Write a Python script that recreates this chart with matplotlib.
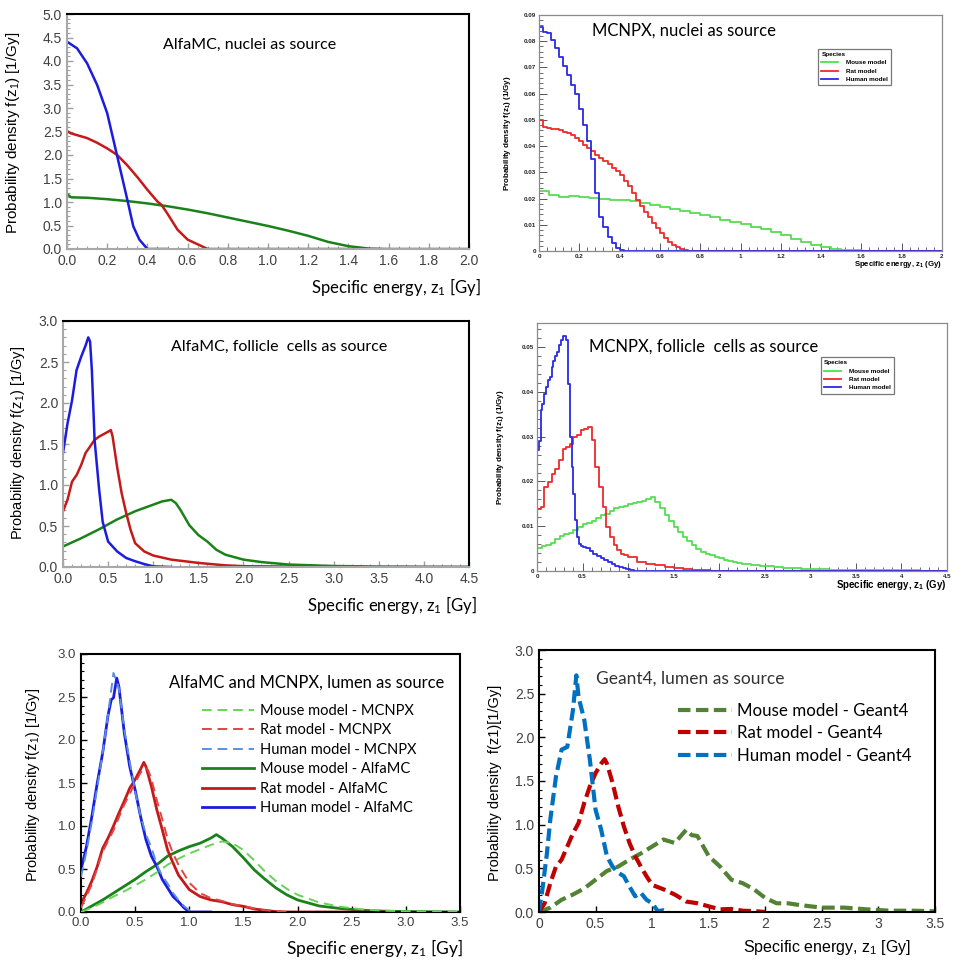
import numpy as np
import matplotlib
matplotlib.use("Agg")
import matplotlib.pyplot as plt
from matplotlib.ticker import MultipleLocator, FormatStrFormatter, FuncFormatter
from matplotlib.lines import Line2D

plt.rcParams['font.family'] = ['Liberation Sans', 'DejaVu Sans']
plt.rcParams['mathtext.default'] = 'regular'

# ---------------- data ----------------
# AlfaMC, nuclei as source
nuc_alfa_human_x = [0.0, 0.05, 0.10, 0.15, 0.20, 0.25, 0.30, 0.33, 0.36, 0.40, 0.50]
nuc_alfa_human_y = [4.41, 4.27, 3.95, 3.49, 2.89, 1.97, 1.05, 0.48, 0.20, 0.0, 0.0]
nuc_alfa_rat_x = [0.0, 0.02, 0.10, 0.15, 0.20, 0.25, 0.30, 0.35, 0.40, 0.45, 0.47, 0.50, 0.55, 0.60, 0.65, 0.70, 1.50]
nuc_alfa_rat_y = [2.51, 2.46, 2.36, 2.26, 2.14, 2.00, 1.78, 1.53, 1.26, 1.01, 0.94, 0.75, 0.41, 0.20, 0.10, 0.0, 0.0]
nuc_alfa_mouse_x = [0.0, 0.02, 0.1, 0.2, 0.3, 0.4, 0.5, 0.6, 0.7, 0.8, 0.9, 1.0, 1.1, 1.2, 1.3, 1.4, 1.5, 1.6, 2.0]
nuc_alfa_mouse_y = [1.17, 1.10, 1.09, 1.06, 1.02, 0.97, 0.91, 0.84, 0.76, 0.67, 0.58, 0.49, 0.39, 0.28, 0.15, 0.06, 0.01, 0.0, 0.0]

# MCNPX, nuclei as source (histogram bins, left edges)
nuc_mcnpx_human_y = [0.0855, 0.0836, 0.0830, 0.0805, 0.0775, 0.0740, 0.0705, 0.0672, 0.0632, 0.0598, 0.0540,
                     0.0480, 0.0418, 0.0350, 0.0220, 0.0128, 0.0092, 0.0055, 0.0030, 0.0012, 0.0004, 0.0]
nuc_mcnpx_human_x = np.round(np.arange(len(nuc_mcnpx_human_y)) * 0.02, 3)
nuc_mcnpx_rat_y = [0.0500, 0.0472, 0.0468, 0.0466, 0.0464, 0.0460, 0.0455, 0.0450, 0.0442, 0.0430, 0.0418,
                   0.0405, 0.0392, 0.0380, 0.0368, 0.0356, 0.0342, 0.0330, 0.0318, 0.0305, 0.0288, 0.0268,
                   0.0248, 0.0222, 0.0196, 0.0170, 0.0150, 0.0128, 0.0108, 0.0088, 0.0068, 0.0050, 0.0036,
                   0.0024, 0.0015, 0.0008, 0.0003, 0.0]
nuc_mcnpx_rat_x = np.round(np.arange(len(nuc_mcnpx_rat_y)) * 0.02, 3)
nuc_mcnpx_mouse_y = [0.0228, 0.0215, 0.0205, 0.0208, 0.0206, 0.0202, 0.0200, 0.0196, 0.0195, 0.0190, 0.0182,
                     0.0175, 0.0166, 0.0160, 0.0152, 0.0146, 0.0138, 0.0130, 0.0120, 0.0112, 0.0102, 0.0093,
                     0.0083, 0.0071, 0.0060, 0.0046, 0.0034, 0.0024, 0.0015, 0.0009, 0.0005, 0.0002, 0.0001, 0.0]
nuc_mcnpx_mouse_x = np.round(np.arange(len(nuc_mcnpx_mouse_y)) * 0.05, 3)

# AlfaMC, follicle cells as source
fol_alfa_human_x = [0.0, 0.05, 0.10, 0.15, 0.20, 0.25, 0.28, 0.30, 0.32, 0.35, 0.40, 0.44, 0.50, 0.55, 0.60, 0.70, 0.80, 0.90, 1.00, 1.20]
fol_alfa_human_y = [1.39, 1.75, 2.03, 2.40, 2.56, 2.70, 2.80, 2.75, 2.40, 1.55, 0.95, 0.55, 0.31, 0.25, 0.19, 0.11, 0.07, 0.036, 0.008, 0.0]
fol_alfa_rat_x = [0.0, 0.05, 0.10, 0.15, 0.20, 0.25, 0.30, 0.35, 0.40, 0.45, 0.50, 0.53, 0.55, 0.60, 0.65, 0.70, 0.75, 0.80,
                  0.90, 1.00, 1.20, 1.50, 1.80, 2.00, 2.50, 2.80]
fol_alfa_rat_y = [0.68, 0.82, 1.04, 1.12, 1.24, 1.39, 1.47, 1.55, 1.59, 1.62, 1.65, 1.67, 1.59, 1.22, 0.90, 0.66, 0.45, 0.29,
                  0.19, 0.14, 0.09, 0.05, 0.02, 0.01, 0.005, 0.0]
fol_alfa_mouse_x = [0.0, 0.2, 0.4, 0.6, 0.8, 1.0, 1.1, 1.2, 1.25, 1.3, 1.4, 1.5, 1.6, 1.7, 1.8, 2.0, 2.2, 2.5, 3.0, 3.5, 4.0, 4.5]
fol_alfa_mouse_y = [0.25, 0.35, 0.46, 0.58, 0.68, 0.76, 0.80, 0.82, 0.78, 0.70, 0.51, 0.39, 0.31, 0.21, 0.15, 0.09, 0.06, 0.03,
                    0.012, 0.006, 0.004, 0.003]

# MCNPX, follicle cells as source (histogram bins, left edges)
fol_mcnpx_human_x = [0.00, 0.02, 0.04, 0.06, 0.08, 0.10, 0.12, 0.14, 0.16, 0.18, 0.20, 0.22, 0.24, 0.26, 0.28, 0.30,
                     0.32, 0.34, 0.36, 0.38, 0.40, 0.42, 0.44, 0.46, 0.48, 0.50, 0.54, 0.58, 0.62, 0.66, 0.70, 0.74,
                     0.78, 0.82, 0.86, 0.90, 0.94, 0.98, 1.02, 1.06, 1.10]
fol_mcnpx_human_y = [0.0270, 0.0290, 0.0360, 0.0373, 0.0396, 0.0410, 0.0426, 0.0433, 0.0455, 0.0470, 0.0480, 0.0490,
                     0.0504, 0.0515, 0.0526, 0.0526, 0.0515, 0.0418, 0.0299, 0.0232, 0.0173, 0.0113, 0.0076, 0.0061,
                     0.0056, 0.0054, 0.0052, 0.0045, 0.0038, 0.0033, 0.0028, 0.0024, 0.0019, 0.0015, 0.0012, 0.0009,
                     0.0007, 0.0004, 0.0002, 0.0001, 0.0]
fol_mcnpx_rat_x = [0.00, 0.04, 0.08, 0.12, 0.16, 0.20, 0.24, 0.28, 0.32, 0.36, 0.40, 0.44, 0.48, 0.52, 0.56, 0.60, 0.64,
                   0.68, 0.72, 0.76, 0.80, 0.84, 0.88, 0.92, 0.96, 1.0, 1.1, 1.2, 1.3, 1.4, 1.5, 1.6, 1.7, 1.8, 1.9,
                   2.0, 2.2]
fol_mcnpx_rat_y = [0.0139, 0.0142, 0.0188, 0.0199, 0.0217, 0.0228, 0.0247, 0.0273, 0.0277, 0.0284, 0.0299, 0.0303,
                   0.0314, 0.0318, 0.0321, 0.0292, 0.0232, 0.0188, 0.0143, 0.0098, 0.0076, 0.0057, 0.0046, 0.0039,
                   0.0035, 0.0031, 0.0020, 0.0016, 0.0013, 0.0009, 0.0007, 0.0004, 0.0003, 0.0002, 0.0001, 0.0001, 0.0]
fol_mcnpx_mouse_y = [0.0052, 0.0056, 0.0058, 0.0062, 0.0072, 0.0078, 0.0082, 0.0086, 0.0092, 0.0098, 0.0104,
                     0.0108, 0.0112, 0.0118, 0.0124, 0.0128, 0.0134, 0.0140, 0.0144, 0.0146, 0.0150, 0.0152,
                     0.0154, 0.0156, 0.0160, 0.0165, 0.0155, 0.0140, 0.0126, 0.0112, 0.0098, 0.0087, 0.0076,
                     0.0066, 0.0057, 0.0049, 0.0043, 0.0038, 0.0035, 0.0031, 0.0028, 0.0025, 0.0023, 0.0020,
                     0.0018, 0.0016, 0.0015, 0.0014, 0.0013, 0.0012,
                     0.0011, 0.0009, 0.0007, 0.0006, 0.0005, 0.0004, 0.0004, 0.0003, 0.0003, 0.0003, 0.0003,
                     0.0002, 0.0002, 0.0002, 0.0002, 0.0002, 0.0002, 0.0001, 0.0001, 0.0001]
fol_mcnpx_mouse_x = np.round(np.concatenate([np.arange(50) * 0.05, 2.5 + np.arange(20) * 0.1]), 3)

# AlfaMC and MCNPX, lumen as source
lum_alfa_human_x = [0.0, 0.05, 0.10, 0.15, 0.20, 0.25, 0.28, 0.30, 0.33, 0.35, 0.40, 0.45, 0.50, 0.55, 0.60, 0.65, 0.70,
                    0.75, 0.80, 0.85, 0.90, 0.95, 1.00, 1.20]
lum_alfa_human_y = [0.49, 0.76, 1.11, 1.50, 1.85, 2.29, 2.47, 2.49, 2.72, 2.62, 2.08, 1.69, 1.42, 1.11, 0.84, 0.65, 0.53,
                    0.38, 0.28, 0.18, 0.12, 0.05, 0.0, 0.0]
lum_mcnpx_human_x = [0.0, 0.05, 0.10, 0.15, 0.20, 0.25, 0.30, 0.35, 0.40, 0.45, 0.50, 0.55, 0.60, 0.65, 0.70, 0.75,
                     0.80, 0.85, 0.90, 0.95, 1.00, 1.05]
lum_mcnpx_human_y = [0.41, 0.70, 1.05, 1.45, 1.85, 2.30, 2.78, 2.60, 2.12, 1.75, 1.40, 1.12, 0.90, 0.75, 0.55, 0.42,
                     0.33, 0.22, 0.14, 0.07, 0.02, 0.0]
lum_alfa_rat_x = [0.0, 0.05, 0.10, 0.15, 0.20, 0.25, 0.30, 0.35, 0.40, 0.45, 0.50, 0.55, 0.58, 0.60, 0.65, 0.70, 0.75,
                  0.80, 0.85, 0.90, 1.00, 1.10, 1.20, 1.30, 1.40, 1.50, 1.60, 1.70, 1.80, 1.90, 2.80]
lum_alfa_rat_y = [0.10, 0.22, 0.36, 0.53, 0.74, 0.86, 1.00, 1.15, 1.29, 1.44, 1.54, 1.66, 1.74, 1.69, 1.46, 1.19, 0.96,
                  0.72, 0.57, 0.43, 0.26, 0.18, 0.14, 0.12, 0.085, 0.066, 0.035, 0.02, 0.004, 0.0, 0.0]
lum_mcnpx_rat_x = [0.0, 0.1, 0.2, 0.3, 0.4, 0.5, 0.55, 0.6, 0.62, 0.65, 0.7, 0.75, 0.8, 0.85, 0.9, 1.0, 1.1, 1.2, 1.3,
                   1.4, 1.5, 1.6, 1.7, 1.8, 1.9]
lum_mcnpx_rat_y = [0.05, 0.32, 0.70, 0.95, 1.25, 1.50, 1.62, 1.68, 1.65, 1.55, 1.30, 1.08, 0.85, 0.68, 0.55, 0.34, 0.22,
                   0.16, 0.13, 0.09, 0.07, 0.04, 0.02, 0.01, 0.0]
lum_alfa_mouse_x = [0.0, 0.1, 0.2, 0.3, 0.4, 0.5, 0.6, 0.7, 0.8, 0.9, 1.0, 1.1, 1.2, 1.25, 1.3, 1.4, 1.5, 1.6, 1.7, 1.8,
                    1.9, 2.0, 2.2, 2.4, 2.6, 2.8, 3.0, 3.5]
lum_alfa_mouse_y = [0.0, 0.07, 0.14, 0.22, 0.30, 0.38, 0.47, 0.55, 0.65, 0.71, 0.76, 0.80, 0.86, 0.90, 0.86, 0.76, 0.63,
                    0.49, 0.38, 0.28, 0.20, 0.14, 0.07, 0.04, 0.02, 0.01, 0.005, 0.0]
lum_mcnpx_mouse_x = [0.0, 0.1, 0.2, 0.3, 0.4, 0.5, 0.6, 0.7, 0.8, 0.9, 1.0, 1.1, 1.2, 1.3, 1.4, 1.5, 1.6, 1.7, 1.8, 1.9,
                     2.0, 2.2, 2.4, 2.6, 2.8, 3.0, 3.2, 3.5]
lum_mcnpx_mouse_y = [0.0, 0.05, 0.11, 0.18, 0.24, 0.31, 0.38, 0.46, 0.55, 0.62, 0.68, 0.73, 0.78, 0.82, 0.80, 0.72, 0.60,
                     0.47, 0.36, 0.27, 0.20, 0.11, 0.06, 0.03, 0.015, 0.008, 0.004, 0.0]

# Geant4, lumen as source
g4_human_x = [0.0, 0.03, 0.07, 0.10, 0.15, 0.20, 0.25, 0.30, 0.33, 0.35, 0.40, 0.45, 0.50, 0.55, 0.60, 0.65, 0.70, 0.75,
              0.80, 0.85, 0.90, 0.95, 1.00, 1.05, 1.10, 1.15]
g4_human_y = [0.0, 0.26, 0.67, 1.06, 1.55, 1.86, 1.89, 2.31, 2.71, 2.46, 2.20, 1.74, 1.17, 0.94, 0.64, 0.52, 0.45, 0.41,
              0.29, 0.18, 0.22, 0.14, 0.10, 0.01, 0.02, 0.0]
g4_rat_x = [0.0, 0.05, 0.10, 0.15, 0.20, 0.25, 0.30, 0.35, 0.40, 0.45, 0.50, 0.55, 0.58, 0.60, 0.65, 0.70, 0.75, 0.80,
            0.85, 0.90, 0.95, 1.00, 1.10, 1.20, 1.30, 1.40, 1.50, 1.60, 1.70, 1.80, 1.90, 2.00]
g4_rat_y = [0.0, 0.10, 0.33, 0.52, 0.60, 0.75, 0.90, 1.02, 1.25, 1.44, 1.59, 1.70, 1.75, 1.70, 1.48, 1.21, 0.98, 0.79,
            0.64, 0.52, 0.41, 0.31, 0.26, 0.20, 0.12, 0.10, 0.065, 0.03, 0.035, 0.015, 0.01, 0.0]
g4_mouse_x = [0.0, 0.1, 0.2, 0.3, 0.4, 0.5, 0.6, 0.7, 0.8, 0.9, 1.0, 1.1, 1.2, 1.3, 1.35, 1.4, 1.5, 1.6, 1.7, 1.8, 1.9,
              2.0, 2.1, 2.2, 2.3, 2.5, 2.7, 2.9, 3.1, 3.3, 3.5]
g4_mouse_y = [0.0, 0.05, 0.14, 0.20, 0.27, 0.37, 0.47, 0.52, 0.60, 0.67, 0.75, 0.83, 0.79, 0.94, 0.88, 0.87, 0.64, 0.52,
              0.37, 0.33, 0.26, 0.16, 0.10, 0.10, 0.08, 0.05, 0.05, 0.03, 0.015, 0.015, 0.008]

# ---------------- colours ----------------
ALFA_BLUE, ALFA_RED, ALFA_GREEN = '#1c1ce0', '#c41a1a', '#1a821a'
ROOT_BLUE, ROOT_RED, ROOT_GREEN = '#2a2ae6', '#ee2a2a', '#55dd55'
MC_BLUE, MC_RED, MC_GREEN = '#5a8ede', '#e04545', '#66d455'
G4_BLUE, G4_RED, G4_GREEN = '#0070c0', '#c00000', '#548235'

W, H = 961, 967
fig = plt.figure(figsize=(W / 100, H / 100), dpi=100)


def add_axes_px(left, top, right, bottom):
    return fig.add_axes([left / W, 1 - bottom / H, (right - left) / W, (bottom - top) / H])


def excel_style(ax, gray_left_bottom=True, labelsize=10):
    for side in ('top', 'right', 'left', 'bottom'):
        ax.spines[side].set_color('black')
        ax.spines[side].set_linewidth(1.5)
    if gray_left_bottom:
        ax.spines['left'].set_color('#a8a8a8')
        ax.spines['bottom'].set_color('#a8a8a8')
        tick_col = '#a0a0a0'
    else:
        tick_col = 'black'
    ax.tick_params(which='both', direction='in', colors=tick_col, labelcolor='#404040',
                   labelsize=labelsize, top=False, right=False)
    ax.tick_params(which='major', length=4, width=1)
    ax.tick_params(which='minor', length=2.5, width=0.8)


def root_style(ax):
    for side in ('top', 'right', 'left', 'bottom'):
        ax.spines[side].set_color('#8a8a8a')
        ax.spines[side].set_linewidth(0.9)
    ax.tick_params(which='both', direction='in', colors='#555555', labelcolor='#222222',
                   labelsize=4.5, top=False, right=False, pad=2)
    ax.tick_params(which='major', length=6, width=0.7)
    ax.tick_params(which='minor', length=3, width=0.6)
    for lab in ax.get_xticklabels() + ax.get_yticklabels():
        lab.set_fontweight('bold')
    ax.xaxis.set_major_formatter(FuncFormatter(lambda v, p: '%g' % round(v, 4)))
    ax.yaxis.set_major_formatter(FuncFormatter(lambda v, p: '%g' % round(v, 4)))


def hist_line(ax, x, y, color, xmax):
    xs = np.append(np.asarray(x, float), xmax)
    ys = np.append(np.asarray(y, float), y[-1])
    ax.step(xs, ys, where='post', color=color, lw=1.3)


def root_legend(ax, x0, y0):
    handles = [Line2D([], [], color=ROOT_GREEN, lw=1.3),
               Line2D([], [], color=ROOT_RED, lw=1.3),
               Line2D([], [], color=ROOT_BLUE, lw=1.3)]
    leg = ax.legend(handles, ['Mouse model', 'Rat model', 'Human model'], loc='upper left',
                    bbox_to_anchor=(x0, y0), title='Species', alignment='left',
                    prop={'size': 4.6, 'weight': 'bold'}, title_fontproperties={'size': 4.6, 'weight': 'bold'},
                    fancybox=False, edgecolor='#777777', framealpha=1, borderpad=0.5,
                    handlelength=2.6, handletextpad=1.2, labelspacing=0.45)
    leg.get_frame().set_linewidth(0.9)


calibri = ['Lato', 'DejaVu Sans']

# ---------------- panel 1: AlfaMC nuclei ----------------
ax1 = add_axes_px(67, 14, 469, 249)
ax1.plot(nuc_alfa_mouse_x, nuc_alfa_mouse_y, color=ALFA_GREEN, lw=1.8)
ax1.plot(nuc_alfa_rat_x, nuc_alfa_rat_y, color=ALFA_RED, lw=1.8)
ax1.plot(nuc_alfa_human_x, nuc_alfa_human_y, color=ALFA_BLUE, lw=1.8)
ax1.set_xlim(0, 2.0)
ax1.set_ylim(0, 5.0)
ax1.xaxis.set_major_locator(MultipleLocator(0.2))
ax1.xaxis.set_minor_locator(MultipleLocator(0.05))
ax1.yaxis.set_major_locator(MultipleLocator(0.5))
ax1.yaxis.set_minor_locator(MultipleLocator(0.1))
ax1.xaxis.set_major_formatter(FormatStrFormatter('%.1f'))
ax1.yaxis.set_major_formatter(FormatStrFormatter('%.1f'))
excel_style(ax1)
ax1.set_ylabel('Probability density f($z_1$) [1/Gy]', fontsize=11, va='center')
ax1.yaxis.set_label_coords(-0.134, 0.494)
ax1.set_xlabel('Specific energy, $z_1$ [Gy]', fontsize=12, family=calibri, ha='right', va='center')
ax1.xaxis.set_label_coords(1.03, -0.162)
ax1.text(0.455, 0.868, 'AlfaMC, nuclei as source', transform=ax1.transAxes, ha='center', va='center',
         fontsize=11.5, family=calibri)

# ---------------- panel 2: MCNPX nuclei ----------------
ax2 = add_axes_px(539, 15, 942, 251)
hist_line(ax2, nuc_mcnpx_mouse_x, nuc_mcnpx_mouse_y, ROOT_GREEN, 2.0)
hist_line(ax2, nuc_mcnpx_rat_x, nuc_mcnpx_rat_y, ROOT_RED, 2.0)
hist_line(ax2, nuc_mcnpx_human_x, nuc_mcnpx_human_y, ROOT_BLUE, 2.0)
ax2.set_xlim(0, 2.0)
ax2.set_ylim(0, 0.09)
ax2.xaxis.set_major_locator(MultipleLocator(0.2))
ax2.xaxis.set_minor_locator(MultipleLocator(0.04))
ax2.yaxis.set_major_locator(MultipleLocator(0.01))
ax2.yaxis.set_minor_locator(MultipleLocator(0.002))
root_style(ax2)
ax2.set_ylabel('Probability density f($z_1$) (1/Gy)', fontsize=5.8, fontweight='bold', va='center')
ax2.yaxis.set_label_coords(-0.079, 0.5)
ax2.set_xlabel('Specific energy, $z_1$ (Gy)', fontsize=5.6, fontweight='bold', ha='right', va='center')
ax2.xaxis.set_label_coords(1.0, -0.059)
ax2.text(0.36, 0.932, 'MCNPX, nuclei as source', transform=ax2.transAxes, ha='center', va='center',
         fontsize=12, family=calibri)
root_legend(ax2, 0.685, 0.87)

# ---------------- panel 3: AlfaMC follicle ----------------
ax3 = add_axes_px(63, 321, 469, 567)
ax3.plot(fol_alfa_mouse_x, fol_alfa_mouse_y, color=ALFA_GREEN, lw=1.8)
ax3.plot(fol_alfa_rat_x, fol_alfa_rat_y, color=ALFA_RED, lw=1.8)
ax3.plot(fol_alfa_human_x, fol_alfa_human_y, color=ALFA_BLUE, lw=1.8)
ax3.set_xlim(0, 4.5)
ax3.set_ylim(0, 3.0)
ax3.xaxis.set_major_locator(MultipleLocator(0.5))
ax3.xaxis.set_minor_locator(MultipleLocator(0.1))
ax3.yaxis.set_major_locator(MultipleLocator(0.5))
ax3.yaxis.set_minor_locator(MultipleLocator(0.1))
ax3.xaxis.set_major_formatter(FormatStrFormatter('%.1f'))
ax3.yaxis.set_major_formatter(FormatStrFormatter('%.1f'))
excel_style(ax3)
ax3.set_ylabel('Probability density f($z_1$) [1/Gy]', fontsize=10.5, va='center')
ax3.yaxis.set_label_coords(-0.111, 0.504)
ax3.set_xlabel('Specific energy, $z_1$ [Gy]', fontsize=12, family=calibri, ha='right', va='center')
ax3.xaxis.set_label_coords(1.02, -0.154)
ax3.text(0.532, 0.894, 'AlfaMC, follicle  cells as source', transform=ax3.transAxes, ha='center', va='center',
         fontsize=11.5, family=calibri)

# ---------------- panel 4: MCNPX follicle ----------------
ax4 = add_axes_px(537, 323, 947, 571)
hist_line(ax4, fol_mcnpx_mouse_x, fol_mcnpx_mouse_y, ROOT_GREEN, 4.5)
hist_line(ax4, fol_mcnpx_rat_x, fol_mcnpx_rat_y, ROOT_RED, 4.5)
hist_line(ax4, fol_mcnpx_human_x, fol_mcnpx_human_y, ROOT_BLUE, 4.5)
ax4.set_xlim(0, 4.5)
ax4.set_ylim(0, 0.0554)
ax4.xaxis.set_major_locator(MultipleLocator(0.5))
ax4.xaxis.set_minor_locator(MultipleLocator(0.1))
ax4.yaxis.set_major_locator(MultipleLocator(0.01))
ax4.yaxis.set_minor_locator(MultipleLocator(0.002))
root_style(ax4)
ax4.set_ylabel('Probability density f($z_1$) (1/Gy)', fontsize=5.8, fontweight='bold', va='center')
ax4.yaxis.set_label_coords(-0.088, 0.5)
ax4.set_xlabel('Specific energy, $z_1$ (Gy)', fontsize=7, fontweight='bold', ha='right', va='center')
ax4.xaxis.set_label_coords(0.998, -0.056)
ax4.text(0.407, 0.903, 'MCNPX, follicle  cells as source', transform=ax4.transAxes, ha='center', va='center',
         fontsize=12, family=calibri)
root_legend(ax4, 0.685, 0.875)

# ---------------- panel 5: AlfaMC and MCNPX lumen ----------------
ax5 = add_axes_px(81, 654, 460, 912)
dash = (5, 3)
ax5.plot(lum_mcnpx_mouse_x, lum_mcnpx_mouse_y, color=MC_GREEN, lw=1.4, dashes=dash, zorder=3,
         label='Mouse model - MCNPX')
ax5.plot(lum_mcnpx_rat_x, lum_mcnpx_rat_y, color=MC_RED, lw=1.4, dashes=dash, zorder=3,
         label='Rat model - MCNPX')
ax5.plot(lum_mcnpx_human_x, lum_mcnpx_human_y, color=MC_BLUE, lw=1.4, dashes=dash, zorder=3,
         label='Human model - MCNPX')
ax5.plot(lum_alfa_mouse_x, lum_alfa_mouse_y, color=ALFA_GREEN, lw=2.0, zorder=2, label='Mouse model - AlfaMC')
ax5.plot(lum_alfa_rat_x, lum_alfa_rat_y, color=ALFA_RED, lw=2.0, zorder=2, label='Rat model - AlfaMC')
ax5.plot(lum_alfa_human_x, lum_alfa_human_y, color=ALFA_BLUE, lw=2.0, zorder=2, label='Human model - AlfaMC')
ax5.set_xlim(0, 3.5)
ax5.set_ylim(0, 3.0)
ax5.xaxis.set_major_locator(MultipleLocator(0.5))
ax5.yaxis.set_major_locator(MultipleLocator(0.5))
ax5.yaxis.set_minor_locator(MultipleLocator(0.1))
ax5.xaxis.set_major_formatter(FormatStrFormatter('%.1f'))
ax5.yaxis.set_major_formatter(FormatStrFormatter('%.1f'))
excel_style(ax5, gray_left_bottom=False, labelsize=9.5)
ax5.set_ylabel('Probability density f($z_1$) [1/Gy]', fontsize=10.5, va='center')
ax5.yaxis.set_label_coords(-0.127, 0.492)
ax5.set_xlabel('Specific energy, $z_1$ [Gy]', fontsize=12.5, family=calibri, ha='right', va='center')
ax5.xaxis.set_label_coords(1.008, -0.14)
ax5.text(0.594, 0.888, 'AlfaMC and MCNPX, lumen as source', transform=ax5.transAxes, ha='center', va='center',
         fontsize=11.9, family=calibri)
ax5.legend(loc='upper left', bbox_to_anchor=(0.319, 0.806), frameon=False, prop={'family': calibri, 'size': 10.5},
           handlelength=3.6, handletextpad=0.35, labelspacing=0.37, borderpad=0, borderaxespad=0)

# ---------------- panel 6: Geant4 lumen ----------------
ax6 = add_axes_px(539, 650, 935, 912)
gdash = (3, 1.3)
ax6.plot(g4_mouse_x, g4_mouse_y, color=G4_GREEN, lw=3, dashes=gdash, label='Mouse model - Geant4')
ax6.plot(g4_rat_x, g4_rat_y, color=G4_RED, lw=3, dashes=gdash, label='Rat model - Geant4')
ax6.plot(g4_human_x, g4_human_y, color=G4_BLUE, lw=3, dashes=gdash, label='Human model - Geant4')
ax6.set_xlim(0, 3.5)
ax6.set_ylim(0, 3.0)
ax6.xaxis.set_major_locator(MultipleLocator(0.5))
ax6.yaxis.set_major_locator(MultipleLocator(0.5))
ax6.yaxis.set_minor_locator(MultipleLocator(0.1))
ax6.xaxis.set_major_formatter(FuncFormatter(lambda v, p: '%g' % v))
ax6.yaxis.set_major_formatter(FormatStrFormatter('%.1f'))
excel_style(ax6, gray_left_bottom=False, labelsize=10)
ax6.set_ylabel('Probability density  f(z1)[1/Gy]', fontsize=10.5, va='center')
ax6.yaxis.set_label_coords(-0.111, 0.492)
ax6.set_xlabel('Specific energy, $z_1$ [Gy]', fontsize=11.5, ha='center', va='center')
ax6.xaxis.set_label_coords(0.727, -0.137)
ax6.text(0.381, 0.889, 'Geant4, lumen as source', transform=ax6.transAxes, ha='center', va='center',
         fontsize=12.5, family=calibri, color='#333333')
ax6.legend(loc='upper left', bbox_to_anchor=(0.351, 0.798), frameon=False, prop={'family': calibri, 'size': 12.2},
           handlelength=3.2, handletextpad=0.3, labelspacing=0.38, borderpad=0, borderaxespad=0)

fig.savefig('out.png', dpi=100)
